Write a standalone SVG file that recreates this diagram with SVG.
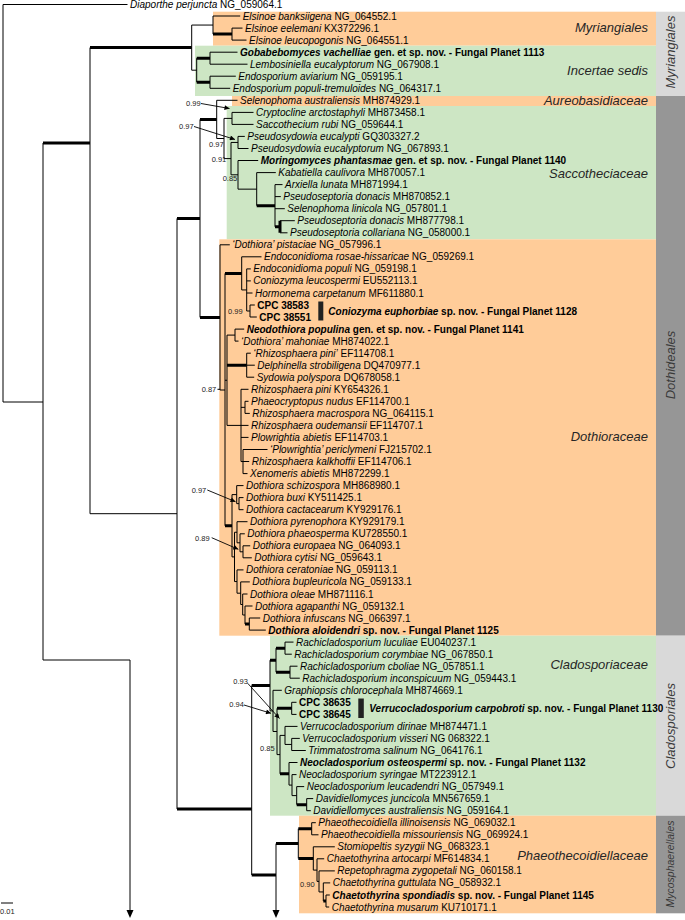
<svg xmlns="http://www.w3.org/2000/svg" width="685" height="920" viewBox="0 0 685 920">
<defs>
<style>
text{font-family:"Liberation Sans",Arial,sans-serif;font-size:10px;fill:#000}
.i{font-style:italic}
.b{font-weight:bold}
.fam{font-size:13px;font-style:italic;fill:#262626;text-anchor:end}
.ord{font-size:13px;font-style:italic;fill:#3a3a3a;text-anchor:middle}
.sv{font-size:7.5px;fill:#222}
.tn{fill:none;stroke:#000;stroke-width:1}
.tk{fill:none;stroke:#000;stroke-width:3}
.ar{fill:none;stroke:#000;stroke-width:0.9}
.or{fill:#FFCC99}
.gr{fill:#CDE6C4}
.lg{fill:#D9D9D9}
.dg{fill:#969696}
</style>
<marker id="ah" viewBox="0 0 10 10" refX="10" refY="5" markerUnits="userSpaceOnUse" markerWidth="6" markerHeight="5" orient="auto"><path d="M0 0L10 5L0 10z" fill="#000"/></marker>
</defs>
<rect width="685" height="920" fill="#fff"/>
<g id="boxes">
<rect class="or" x="213" y="11.7" width="443" height="34"/>
<rect class="gr" x="195" y="45.7" width="461" height="50.3"/>
<rect class="or" x="232" y="96" width="424" height="10"/>
<rect class="gr" x="226.7" y="106" width="429.3" height="133.3"/>
<rect class="or" x="219.3" y="239.3" width="436.7" height="396.4"/>
<rect class="gr" x="270" y="635.7" width="386" height="180"/>
<rect class="or" x="299" y="815.7" width="357" height="97.6"/>
<rect class="lg" x="656" y="11.7" width="29" height="84.3"/>
<rect class="dg" x="656" y="96" width="29" height="539.7"/>
<rect class="lg" x="656" y="635.7" width="29" height="180"/>
<rect class="dg" x="656" y="815.7" width="29" height="97.6"/>
</g>
<g id="group-labels">
<text class="fam" x="648" y="31.8">Myriangiales</text>
<text class="fam" x="648" y="75.2">Incertae sedis</text>
<text class="fam" x="648" y="105.2">Aureobasidiaceae</text>
<text class="fam" x="648" y="177.8">Saccotheciaceae</text>
<text class="fam" x="648" y="441.2">Dothioraceae</text>
<text class="fam" x="648" y="668.8">Cladosporiaceae</text>
<text class="fam" x="648" y="859.5">Phaeothecoidiellaceae</text>
<text class="ord" x="675" y="52" transform="rotate(-90 675 52)">Myriangiales</text>
<text class="ord" x="675" y="365" transform="rotate(-90 675 365)">Dothideales</text>
<text class="ord" x="675" y="726" transform="rotate(-90 675 726)">Cladosporiales</text>
<text class="ord" x="674" y="864" transform="rotate(-90 674 864)" style="font-size:10.5px">Mycosphaerellales</text>
</g>
<g id="connectors">
<path class="tn" d="M3 4.5V402M3 4.5H127.5M3 402H43M43 143V660M43 660H130M90 47.6V513.7M90 513.7H177
M191.7 25.05V70.2M191.7 25.05H213M191.7 70.2H196.7M213 16V34.1M213 16H240.2M232 28.1V40.1M232 28.1H242.5M232 40.1H246.5
M196.7 58.2V82.25M210 52.2V64.2M210 52.2H237.5M210 64.2H247.5M210 76.2V88.3M210 76.2H235.8M210 88.3H230.2
M177 218.4V809M200 119.4V317.4M216.7 100.3V138.5M216.7 100.3H237.5M216.7 138.5H224
M224 118.4V158.6M224 118.4H232M224 158.6H231M232 112.4V124.4M232 112.4H253.5M232 124.4H253.5
M231 142.45V174.8M231 142.45H238M231 174.8H238M238 136.4V148.5M238 136.4H244.8M238 148.5H248.5
M238 160.5V189.15M238 160.5H258.2M238 189.15H256.7M256.7 172.6V205.7M256.7 172.6H275.8
M275 184.6V226.75M275 184.6H282.5M275 196.6H280.8M275 208.7H284.8M280 220.7H294.8M280 232.8H287.5
M220 244.8V390M220 244.8H229.8M220 390H225M217.5 389.3H220
M225 273.4V525.75M225 380.25H227M241.7 256.8V289.95M241.7 256.8H261.5M241.7 289.95H246.7
M246.7 268.9V311M246.7 268.9H250.8M246.7 280.9H250.8M246.7 293H252.5M246.7 311H250M250 305V317M250 305H254.8M250 317H256.8
M227 335.1V425.4M227 335.1H235M227 425.4H241M235 329.1V341.1M235 329.1H244.2M235 341.1H238.5
M246.7 353.2V377.2M246.7 353.2H250.8M246.7 365.2H254.8M246.7 377.2H254.2
M241 389.3V461.55M241 389.3H248.5M241 407.35H245M241 425.4H248.5M241 437.4H248.5M241 461.55H243
M245 401.3V413.4M245 401.3H248.5M245 413.4H249.8M243 449.5V473.6M243 449.5H267.5M243 461.5H249.2M243 473.6H247.5
M232 494.6V556.9M232 494.6H236.7M232 556.9H234.5M236.7 485.6V503.65M236.7 485.6H243.5M236.7 503.65H239
M239 497.6V509.7M239 497.6H243.5M239 509.7H243.5M234.5 532.25V581.55M234.5 532.25H237M234.5 581.55H237
M237 521.7V542.8M237 521.7H247.5M237 542.8H240M240 533.8V551.8M240 533.8H244.8M240 551.8H243
M243 545.8V557.8M243 545.8H250.2M243 557.8H251.8M237 569.9V593.2M237 569.9H243.5M237 593.2H240.7
M240.7 581.9V604.5M240.7 581.9H249.8M240.7 604.5H242.7M242.7 594V615M242.7 594H247.5M242.7 615H245
M245 606V624.05M245 606H252.5M249.3 618V630.1M249.3 618H260.2M249.3 630.1H265.8
M251.7 685.55V875M270 660.2V710.9M270 710.9H273M276 648.15V672.2M285 642.1V654.2M285 642.1H293.5M285 654.2H291.8
M290 666.2V678.2M290 666.2H297.5M290 678.2H299.8M273 690.3V731.5M273 690.3H281.8M273 731.5H277
M277 708.35V754.6M277 754.6H280M291.7 702.3V714.4M291.7 702.3H296.5M291.7 714.4H296.5
M280 735.4V773.8M280 735.4H285M285 726.4V744.45M285 726.4H297.5M285 744.45H291.7
M291.7 738.4V750.5M291.7 738.4H299.8M291.7 750.5H305.8M289 762.5V785.1M289 762.5H297.5M289 785.1H292
M292 774.6V795.6M292 774.6H296.5M292 795.6H296.7M296.7 786.6V804.65M296.7 786.6H304.2
M306.7 798.6V810.7M306.7 798.6H313.2M306.7 810.7H310.8
M298.3 828.75V858.45M311.7 822.7V834.8M311.7 822.7H315.8M311.7 834.8H318.5
M313.3 846.8V870.1M313.3 846.8H334.8M313.3 870.1H317M317 858.8V881.4M317 858.8H324.2M317 881.4H319
M319 870.9V891.95M319 870.9H334.8M319 891.95H323.3M323.3 882.9V901M323.3 882.9H330.2
M326 895V907M326 895H329.8M326 907H329.2
M130 660V911M276 843.6V911"/>
<path class="tk" d="M43 143H90M90 47.6H191.7M213 34.1H232M196.7 58.2H210M196.7 82.25H210
M177 218.4H200M200 119.4H216.7M200 317.4H220M256.7 205.7H275M275 226.75H280M280 220.7V232.8
M225 273.4H241.7M227 365.2H246.7M225 525.75H232M245 624.05H249.3
M177 809H251.7M251.7 685.55H270M270 660.2H276M276 648.15H285M276 672.2H290M277 708.35H291.7M280 773.8H289M296.7 804.65H306.7
M251.7 875H276M276 843.6H298.3M298.3 828.75H311.7M298.3 858.45H313.3M323.3 901H326"/>
<path d="M126.5 910L133.5 910L130 918zM272.5 910L279.5 910L276 918z" fill="#000"/>
<path class="ar" marker-end="url(#ah)" d="M201 103.5L229.5 108.5"/>
<path class="ar" marker-end="url(#ah)" d="M194 126.5L235 139.5"/>
<path class="ar" marker-end="url(#ah)" d="M207.3 490L235.5 501.7"/>
<path class="ar" marker-end="url(#ah)" d="M211.7 537.7L238.3 549.3"/>
<path class="ar" marker-end="url(#ah)" d="M247.7 683.3L279.5 718.5"/>
<path class="ar" marker-end="url(#ah)" d="M244 705L271 713.3"/>
<path class="tn" d="M1 903H13"/>
</g>
<g id="support">
<text class="sv" x="186" y="105.7">0.99</text>
<text class="sv" x="179" y="129">0.97</text>
<text class="sv" x="209" y="147">0.97</text>
<text class="sv" x="211.7" y="162.3">0.91</text>
<text class="sv" x="222.7" y="181.3">0.85</text>
<text class="sv" x="228" y="313.7">0.99</text>
<text class="sv" x="201.7" y="392.3">0.87</text>
<text class="sv" x="191.7" y="493">0.97</text>
<text class="sv" x="195" y="540.7">0.89</text>
<text class="sv" x="233.3" y="684">0.93</text>
<text class="sv" x="229.3" y="707.3">0.94</text>
<text class="sv" x="260" y="751.3">0.85</text>
<text class="sv" x="300" y="887.3">0.90</text>
<text class="sv" x="0" y="914">0.01</text>
</g>
<g id="t00"><text x="130" y="8"><tspan class="i">Diaporthe perjuncta</tspan> NG_059064.1</text></g>
<g id="t01"><text x="242.7" y="19.5"><tspan class="i">Elsinoe banksiigena</tspan> NG_064552.1</text></g>
<g id="t02"><text x="245" y="31.6"><tspan class="i">Elsinoe eelemani</tspan> KX372296.1</text></g>
<g id="t03"><text x="249" y="43.6"><tspan class="i">Elsinoe leucopogonis</tspan> NG_064551.1</text></g>
<g id="t04"><text class="b" x="240" y="55.7"><tspan class="i">Gobabebomyces vachelliae</tspan> gen. et sp. nov. - Fungal Planet 1113</text></g>
<g id="t05"><text x="250" y="67.7"><tspan class="i">Lembosiniella eucalyptorum</tspan> NG_067908.1</text></g>
<g id="t06"><text x="238.3" y="79.7"><tspan class="i">Endosporium aviarium</tspan> NG_059195.1</text></g>
<g id="t07"><text x="232.7" y="91.8"><tspan class="i">Endosporium populi-tremuloides</tspan> NG_064317.1</text></g>
<g id="t08"><text x="240" y="103.8"><tspan class="i">Selenophoma australiensis</tspan> MH874929.1</text></g>
<g id="t09"><text x="256" y="115.9"><tspan class="i">Cryptocline arctostaphyli</tspan> MH873458.1</text></g>
<g id="t10"><text x="256" y="127.9"><tspan class="i">Saccothecium rubi</tspan> NG_059644.1</text></g>
<g id="t11"><text x="247.3" y="139.9"><tspan class="i">Pseudosydowia eucalypti</tspan> GQ303327.2</text></g>
<g id="t12"><text x="251" y="152"><tspan class="i">Pseudosydowia eucalyptorum</tspan> NG_067893.1</text></g>
<g id="t13"><text class="b" x="260.7" y="164"><tspan class="i">Moringomyces phantasmae</tspan> gen. et sp. nov. - Fungal Planet 1140</text></g>
<g id="t14"><text x="278.3" y="176.1"><tspan class="i">Kabatiella caulivora</tspan> MH870057.1</text></g>
<g id="t15"><text x="285" y="188.1"><tspan class="i">Arxiella lunata</tspan> MH871994.1</text></g>
<g id="t16"><text x="283.3" y="200.1"><tspan class="i">Pseudoseptoria donacis</tspan> MH870852.1</text></g>
<g id="t17"><text x="287.3" y="212.2"><tspan class="i">Selenophoma linicola</tspan> NG_057801.1</text></g>
<g id="t18"><text x="297.3" y="224.2"><tspan class="i">Pseudoseptoria donacis</tspan> MH877798.1</text></g>
<g id="t19"><text x="290" y="236.3"><tspan class="i">Pseudoseptoria collariana</tspan> NG_058000.1</text></g>
<g id="t20"><text x="232.3" y="248.3"><tspan class="i">‘Dothiora’ pistaciae</tspan> NG_057996.1</text></g>
<g id="t21"><text x="264" y="260.3"><tspan class="i">Endoconidioma rosae-hissaricae</tspan> NG_059269.1</text></g>
<g id="t22"><text x="253.3" y="272.4"><tspan class="i">Endoconidioma populi</tspan> NG_059198.1</text></g>
<g id="t23"><text x="253.3" y="284.4"><tspan class="i">Coniozyma leucospermi</tspan> EU552113.1</text></g>
<g id="t24"><text x="255" y="296.5"><tspan class="i">Hormonema carpetanum</tspan> MF611880.1</text></g>
<g id="t25"><text class="b" x="257.3" y="308.5">CPC 38583</text></g>
<g id="t26"><text class="b" x="259.3" y="320.5">CPC 38551</text></g>
<g id="t25b"><rect x="318.3" y="301.5" width="5" height="19" fill="#222"/><text class="b" x="328.3" y="314.5"><tspan class="i">Coniozyma euphorbiae</tspan> sp. nov. - Fungal Planet 1128</text></g>
<g id="t27"><text class="b" x="246.7" y="332.6"><tspan class="i">Neodothiora populina</tspan> gen. et sp. nov. - Fungal Planet 1141</text></g>
<g id="t28"><text x="241" y="344.6"><tspan class="i">‘Dothiora’ mahoniae</tspan> MH874022.1</text></g>
<g id="t29"><text x="253.3" y="356.7"><tspan class="i">‘Rhizosphaera pini’</tspan> EF114708.1</text></g>
<g id="t30"><text x="257.3" y="368.7"><tspan class="i">Delphinella strobiligena</tspan> DQ470977.1</text></g>
<g id="t31"><text x="256.7" y="380.7"><tspan class="i">Sydowia polyspora</tspan> DQ678058.1</text></g>
<g id="t32"><text x="251" y="392.8"><tspan class="i">Rhizosphaera pini</tspan> KY654326.1</text></g>
<g id="t33"><text x="251" y="404.8"><tspan class="i">Phaeocryptopus nudus</tspan> EF114700.1</text></g>
<g id="t34"><text x="252.3" y="416.9"><tspan class="i">Rhizosphaera macrospora</tspan> NG_064115.1</text></g>
<g id="t35"><text x="251" y="428.9"><tspan class="i">Rhizosphaera oudemansii</tspan> EF114707.1</text></g>
<g id="t36"><text x="251" y="440.9"><tspan class="i">Plowrightia abietis</tspan> EF114703.1</text></g>
<g id="t37"><text x="270" y="453"><tspan class="i">‘Plowrightia’ periclymeni</tspan> FJ215702.1</text></g>
<g id="t38"><text x="251.7" y="465"><tspan class="i">Rhizosphaera kalkhoffii</tspan> EF114706.1</text></g>
<g id="t39"><text x="250" y="477.1"><tspan class="i">Xenomeris abietis</tspan> MH872299.1</text></g>
<g id="t40"><text x="246" y="489.1"><tspan class="i">Dothiora schizospora</tspan> MH868980.1</text></g>
<g id="t41"><text x="246" y="501.1"><tspan class="i">Dothiora buxi</tspan> KY511425.1</text></g>
<g id="t42"><text x="246" y="513.2"><tspan class="i">Dothiora cactacearum</tspan> KY929176.1</text></g>
<g id="t43"><text x="250" y="525.2"><tspan class="i">Dothiora pyrenophora</tspan> KY929179.1</text></g>
<g id="t44"><text x="247.3" y="537.3"><tspan class="i">Dothiora phaeosperma</tspan> KU728550.1</text></g>
<g id="t45"><text x="252.7" y="549.3"><tspan class="i">Dothiora europaea</tspan> NG_064093.1</text></g>
<g id="t46"><text x="254.3" y="561.3"><tspan class="i">Dothiora cytisi</tspan> NG_059643.1</text></g>
<g id="t47"><text x="246" y="573.4"><tspan class="i">Dothiora ceratoniae</tspan> NG_059113.1</text></g>
<g id="t48"><text x="252.3" y="585.4"><tspan class="i">Dothiora bupleuricola</tspan> NG_059133.1</text></g>
<g id="t49"><text x="250" y="597.5"><tspan class="i">Dothiora oleae</tspan> MH871116.1</text></g>
<g id="t50"><text x="255" y="609.5"><tspan class="i">Dothiora agapanthi</tspan> NG_059132.1</text></g>
<g id="t51"><text x="262.7" y="621.5"><tspan class="i">Dothiora infuscans</tspan> NG_066397.1</text></g>
<g id="t52"><text class="b" x="268.3" y="633.6"><tspan class="i">Dothiora aloidendri</tspan> sp. nov. - Fungal Planet 1125</text></g>
<g id="t53"><text x="296" y="645.6"><tspan class="i">Rachicladosporium luculiae</tspan> EU040237.1</text></g>
<g id="t54"><text x="294.3" y="657.7"><tspan class="i">Rachicladosporium corymbiae</tspan> NG_067850.1</text></g>
<g id="t55"><text x="300" y="669.7"><tspan class="i">Rachicladosporium cboliae</tspan> NG_057851.1</text></g>
<g id="t56"><text x="302.3" y="681.7"><tspan class="i">Rachicladosporium inconspicuum</tspan> NG_059443.1</text></g>
<g id="t57"><text x="284.3" y="693.8"><tspan class="i">Graphiopsis chlorocephala</tspan> MH874669.1</text></g>
<g id="t58"><text class="b" x="299" y="705.8">CPC 38635</text></g>
<g id="t59"><text class="b" x="299" y="717.9">CPC 38645</text></g>
<g id="t58b"><rect x="358.3" y="698.5" width="5.5" height="19.5" fill="#222"/><text class="b" x="369.3" y="711.7"><tspan class="i">Verrucocladosporium carpobroti</tspan> sp. nov. - Fungal Planet 1130</text></g>
<g id="t60"><text x="300" y="729.9"><tspan class="i">Verrucocladosporium dirinae</tspan> MH874471.1</text></g>
<g id="t61"><text x="302.3" y="741.9"><tspan class="i">Verrucocladosporium visseri</tspan> NG 068322.1</text></g>
<g id="t62"><text x="308.3" y="754"><tspan class="i">Trimmatostroma salinum</tspan> NG_064176.1</text></g>
<g id="t63"><text class="b" x="300" y="766"><tspan class="i">Neocladosporium osteospermi</tspan> sp. nov. - Fungal Planet 1132</text></g>
<g id="t64"><text x="299" y="778.1"><tspan class="i">Neocladosporium syringae</tspan> MT223912.1</text></g>
<g id="t65"><text x="306.7" y="790.1"><tspan class="i">Neocladosporium leucadendri</tspan> NG_057949.1</text></g>
<g id="t66"><text x="315.7" y="802.1"><tspan class="i">Davidiellomyces juncicola</tspan> MN567659.1</text></g>
<g id="t67"><text x="313.3" y="814.2"><tspan class="i">Davidiellomyces australiensis</tspan> NG_059164.1</text></g>
<g id="t68"><text x="318.3" y="826.2"><tspan class="i">Phaeothecoidiella illinoisensis</tspan> NG_069032.1</text></g>
<g id="t69"><text x="321" y="838.3"><tspan class="i">Phaeothecoidiella missouriensis</tspan> NG_069924.1</text></g>
<g id="t70"><text x="337.3" y="850.3"><tspan class="i">Stomiopeltis syzygii</tspan> NG_068323.1</text></g>
<g id="t71"><text x="326.7" y="862.3"><tspan class="i">Chaetothyrina artocarpi</tspan> MF614834.1</text></g>
<g id="t72"><text x="337.3" y="874.4"><tspan class="i">Repetophragma zygopetali</tspan> NG_060158.1</text></g>
<g id="t73"><text x="332.7" y="886.4"><tspan class="i">Chaetothyrina guttulata</tspan> NG_058932.1</text></g>
<g id="t74"><text class="b" x="332.3" y="898.5"><tspan class="i">Chaetothyrina spondiadis</tspan> sp. nov. - Fungal Planet 1145</text></g>
<g id="t75"><text x="331.7" y="910.5"><tspan class="i">Chaetothyrina musarum</tspan> KU710171.1</text></g>
</svg>
